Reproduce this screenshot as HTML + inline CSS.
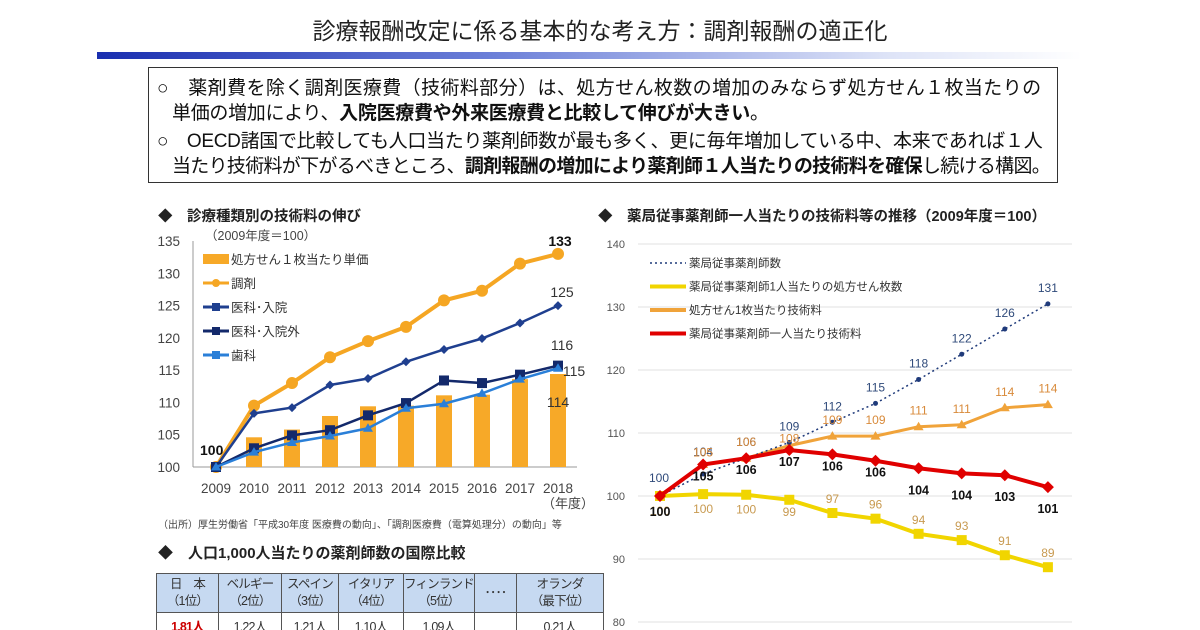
<!DOCTYPE html>
<html><head><meta charset="utf-8"><style>
body{margin:0;background:#fff;font-family:"Liberation Sans","Noto Sans CJK JP",sans-serif;}
#page{position:relative;width:1200px;height:630px;overflow:hidden;background:#fff;}
.t{position:absolute;white-space:nowrap;color:#222;}
table{border-collapse:collapse;position:absolute;left:156px;top:573px;font-size:12.5px;table-layout:fixed;letter-spacing:-0.8px;}
td{border:1px solid #555;text-align:center;line-height:17px;color:#333;white-space:nowrap;overflow:hidden;padding:0;}
tr.h td{background:#c6d9f1;height:38px;}
.bx div{white-space:nowrap;}
</style></head><body>
<div id="page">
<div class="t" style="left:0;width:1200px;text-align:center;top:12px;font-size:23px;color:#222;">診療報酬改定に係る基本的な考え方：調剤報酬の適正化</div>
<div style="position:absolute;left:97px;top:52px;width:985px;height:7px;background:linear-gradient(90deg,#1a2fb0,#6b7fd8 40%,#dde3f7 80%,#fff);"></div>
<div class="bx" style="position:absolute;left:148px;top:67px;width:910px;height:116px;border:1.5px solid #333;font-size:19px;line-height:25px;color:#111;padding:8px 0 0 8px;box-sizing:border-box;letter-spacing:-0.3px;">
<div style="letter-spacing:0.4px">○　薬剤費を除く調剤医療費（技術料部分）は、処方せん枚数の増加のみならず処方せん１枚当たりの</div>
<div style="padding-left:15px">単価の増加により、<b>入院医療費や外来医療費と比較して伸びが大きい</b>。</div>
<div style="margin-top:3px;letter-spacing:-0.3px">○　OECD諸国で比較しても人口当たり薬剤師数が最も多く、更に毎年増加している中、本来であれば１人</div>
<div style="padding-left:15px;letter-spacing:-0.7px">当たり技術料が下がるべきところ、<b>調剤報酬の増加により薬剤師１人当たりの技術料を確保</b>し続ける構図。</div>
</div>
<div class="t" style="left:158px;top:205px;font-size:14.5px;font-weight:bold;">◆　診療種類別の技術料の伸び</div>
<div class="t" style="left:598px;top:205px;font-size:14.5px;font-weight:bold;">◆　薬局従事薬剤師一人当たりの技術料等の推移（2009年度＝100）</div>
<div class="t" style="left:158px;top:516px;font-size:10px;color:#444;">（出所）厚生労働省「平成30年度 医療費の動向」、「調剤医療費（電算処理分）の動向」等</div>
<div class="t" style="left:158px;top:542px;font-size:15px;font-weight:bold;">◆　人口1,000人当たりの薬剤師数の国際比較</div>
<table>
<tr class="h"><td style="width:61px">日　本<br>（1位）</td><td style="width:62px">ベルギー<br>（2位）</td><td style="width:56px">スペイン<br>（3位）</td><td style="width:64px">イタリア<br>（4位）</td><td style="width:55px">フィンランド<br>（5位）</td><td style="width:41px">････</td><td style="width:86px">オランダ<br>（最下位）</td></tr>
<tr><td style="color:#c00;font-weight:bold;height:28px">1.81人</td><td>1.22人</td><td>1.21人</td><td>1.10人</td><td>1.09人</td><td></td><td>0.21人</td></tr>
</table>
<svg id="lc" width="1200" height="630" style="position:absolute;left:0;top:0"></svg>
</div>
<script>
const years=['2009','2010','2011','2012','2013','2014','2015','2016','2017','2018'];
const barVals=[100,104.6,105.8,107.9,109.4,109.5,111.1,111.2,113.6,114.4];
const chozai=[100,109.5,113,117,119.5,121.7,125.8,127.3,131.5,133];
const nyuin=[100,108.3,109.2,112.7,113.7,116.3,118.2,119.9,122.3,125];
const gairai=[100,102.9,104.9,105.7,108,109.9,113.4,113,114.3,115.7];
const shika=[100,102.3,103.8,104.8,106,109.1,109.8,111.4,113.6,115.3];
const leftTicks=[100,105,110,115,120,125,130,135];
const pharm=[100,103.5,106,108.5,111.7,114.7,118.5,122.5,126.5,130.5];
const pharmLbl=[100,104,106,109,112,115,118,122,126,131];
const rxPer=[100,100.3,100.2,99.4,97.3,96.4,94,93,90.6,88.7];
const rxLbl=[100,100,100,99,97,96,94,93,91,89];
const feeRx=[100,105,106,108,109.5,109.5,111,111.3,114,114.5];
const feeRxLbl=[null,105,106,108,109,109,111,111,114,114];
const feePh=[100,105,106,107.3,106.6,105.6,104.4,103.6,103.3,101.4];
const feePhLbl=[100,105,106,107,106,106,104,104,103,101];
const rightTicks=[80,90,100,110,120,130,140];

const svg=document.getElementById('lc');const NS='http://www.w3.org/2000/svg';
function mk(tag,attrs,name,parent){const e=document.createElementNS(NS,tag);for(const k in attrs)e.setAttribute(k,attrs[k]);


(parent||svg).appendChild(e);return e;}
function txt(x,y,s,name,st){const e=mk('text',Object.assign({x:x,y:y,'font-family':'Liberation Sans, Noto Sans CJK JP, sans-serif','font-size':13,fill:'#333'},st||{}),name);e.textContent=s;return e;}
const lx=i=>216+i*38, ly=v=>467-(v-100)*6.457;
leftTicks.forEach(t=>txt(180,ly(t)+5,t,'left-y-tick',{'text-anchor':'end','font-size':13.5,fill:'#444'}));
mk('line',{x1:193,y1:241,x2:193,y2:467,stroke:'#999'},'left-y-axis');
mk('line',{x1:193,y1:467,x2:577,y2:467,stroke:'#999'},'left-x-axis');
years.forEach((y,i)=>txt(lx(i),493,y,'left-x-tick',{'text-anchor':'middle','font-size':13.5,fill:'#444'}));
txt(568,508,'（年度）','left-x-unit',{'text-anchor':'middle','font-size':13,fill:'#444'});
txt(205,240,'（2009年度＝100）','left-base-note',{'font-size':12.5,fill:'#444'});
barVals.forEach((v,i)=>{if(v>100)mk('rect',{x:lx(i)-8,y:ly(v),width:16,height:ly(100)-ly(v),fill:'#f7a928'},'bar-'+years[i]);});
function series(data,xf,yf,color,w,marker,name,dash){
 mk('polyline',{points:data.map((v,i)=>xf(i)+','+yf(v)).join(' '),fill:'none',stroke:color,'stroke-width':w,'stroke-dasharray':dash||'none'},name+'-line');
 data.forEach((v,i)=>{const x=xf(i),y=yf(v);
  if(marker[0]=='c')mk('circle',{cx:x,cy:y,r:marker[1],fill:color},name+'-point');
  else if(marker[0]=='s')mk('rect',{x:x-marker[1],y:y-marker[1],width:2*marker[1],height:2*marker[1],fill:color},name+'-point');
  else if(marker[0]=='d')mk('polygon',{points:`${x},${y-marker[1]} ${x+marker[1]},${y} ${x},${y+marker[1]} ${x-marker[1]},${y}`,fill:color},name+'-point');
  else if(marker[0]=='t')mk('polygon',{points:`${x},${y-marker[1]} ${x+marker[1]},${y+marker[1]*0.7} ${x-marker[1]},${y+marker[1]*0.7}`,fill:color},name+'-point');});
}
series(chozai,lx,ly,'#f5a623',4,['c',6],'chozai');
series(nyuin,lx,ly,'#1f3f8f',2.5,['d',4.5],'nyuin');
series(gairai,lx,ly,'#13296b',2.5,['s',5],'gairai');
series(shika,lx,ly,'#2a7fd8',2.5,['t',5],'shika');
txt(200,455,'100','label-start',{'font-weight':'bold','font-size':14,fill:'#111'});
txt(560,246,chozai[9].toFixed(0),'label-chozai-end',{'text-anchor':'middle','font-weight':'bold','font-size':14,fill:'#111'});
txt(562,297,nyuin[9].toFixed(0),'label-nyuin-end',{'text-anchor':'middle','font-size':14});
txt(562,350,gairai[9].toFixed(0),'label-gairai-end',{'text-anchor':'middle','font-size':14});
txt(574,376,shika[9].toFixed(0),'label-shika-end',{'text-anchor':'middle','font-size':14});
txt(558,407,barVals[9].toFixed(0),'label-bar-end',{'text-anchor':'middle','font-size':14});
const lg=[['bar','#f7a928','処方せん１枚当たり単価'],['c','#f5a623','調剤'],['d','#1f3f8f','医科･入院'],['s','#13296b','医科･入院外'],['t','#2a7fd8','歯科']];
lg.forEach((l,k)=>{const y=259+k*24;
 if(l[0]=='bar')mk('rect',{x:203,y:y-5,width:26,height:10,fill:l[1]},'legend-swatch');
 else{mk('line',{x1:203,y1:y,x2:229,y2:y,stroke:l[1],'stroke-width':3},'legend-swatch');
  if(l[0]=='c')mk('circle',{cx:216,cy:y,r:4,fill:l[1]},'legend-marker');else mk('rect',{x:212,y:y-4,width:8,height:8,fill:l[1]},'legend-marker');}
 txt(231,y+5,l[2],'legend-entry',{'font-size':12.5});});
const rx=i=>660+i*43.1, ry=v=>496-(v-100)*6.3;
rightTicks.forEach(t=>{mk('line',{x1:638,y1:ry(t),x2:1072,y2:ry(t),stroke:'#e2e2e2'},'right-gridline');
 txt(625,ry(t)+4,t,'right-y-tick',{'text-anchor':'end','font-size':11,fill:'#555'});});
series(rxPer,rx,ry,'#f1d500',4,['s',5],'rx-per-pharmacist');
series(feeRx,rx,ry,'#f0a33a',3,['t',5],'fee-per-rx');
series(pharm,rx,ry,'#1f3a7a',1.5,['c',2.5],'pharmacists',"2 3");
series(feePh,rx,ry,'#e00000',4,['d',6],'fee-per-pharmacist');
pharm.forEach((v,i)=>txt(rx(i)-(i==0?1:0),ry(v)-(i==0?14:i==1?18:12),pharmLbl[i],'label-pharmacists',{'text-anchor':'middle','font-size':12,fill:'#2f4a7a'}));
rxPer.forEach((v,i)=>txt(rx(i),i<3?ry(v)+19:ry(v)-10+(i==3?26:0),rxLbl[i],'label-rx',{'text-anchor':'middle','font-size':12,fill:'#c89a50'}));
feeRx.forEach((v,i)=>{if(feeRxLbl[i]!==null)txt(rx(i),ry(v)-(i==1?8:i==2?12:i==3?3:12),feeRxLbl[i],'label-fee-rx',{'text-anchor':'middle','font-size':12,fill:'#d88a3a'});});
feePh.forEach((v,i)=>txt(rx(i),ry(v)+(i==0?20:i<6?16:26),feePhLbl[i],'label-fee-pharmacist',{'text-anchor':'middle','font-size':12.5,'font-weight':'bold',fill:'#111'}));
const rl=[['#1f3a7a','薬局従事薬剤師数',"2 3"],['#f1d500','薬局従事薬剤師1人当たりの処方せん枚数'],['#f0a33a','処方せん1枚当たり技術料'],['#e00000','薬局従事薬剤師一人当たり技術料']];
rl.forEach((l,k)=>{const y=263+k*23.5;
 mk('line',{x1:650,y1:y,x2:686,y2:y,stroke:l[0],'stroke-width':l[2]?1.5:4,'stroke-dasharray':l[2]||'none'},'legend-swatch');
 txt(689,y+4,l[1],'legend-entry',{'font-size':11.5});});
</script>
</body></html>
